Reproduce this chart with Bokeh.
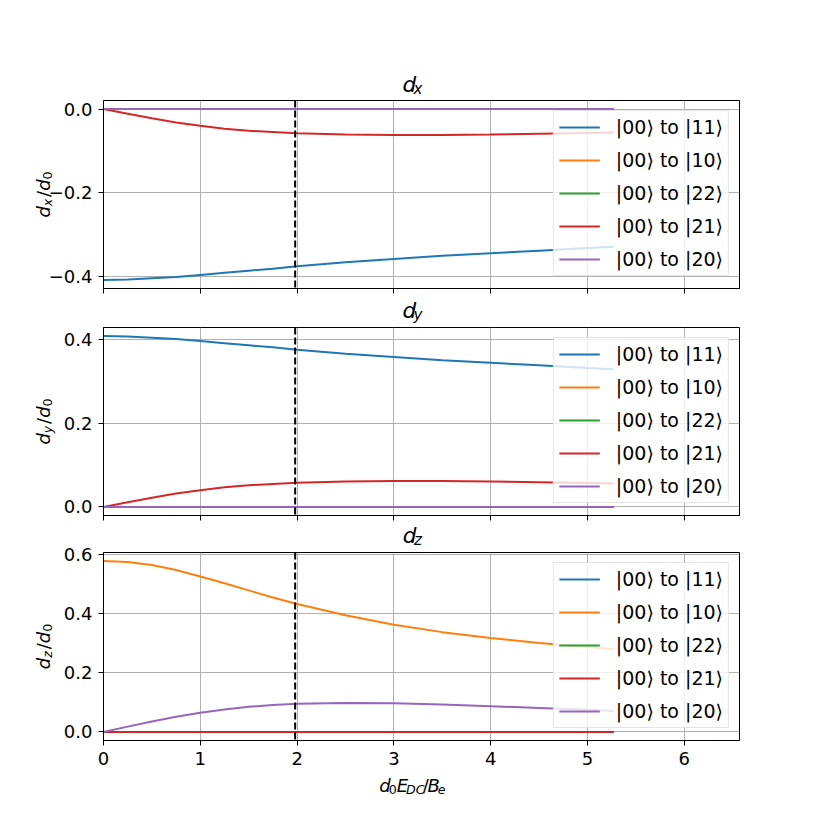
import math
from bokeh.plotting import figure
from bokeh.models import (Range1d, Span, Legend, LegendItem, FixedTicker,
                          CustomJSTickFormatter)
from bokeh.core.properties import value
from bokeh.layouts import column, row
from bokeh.embed import file_html
from bokeh.resources import INLINE

# ---------------- data ----------------
field = [0.0, 0.25, 0.5, 0.75, 1.0, 1.25, 1.5, 1.75, 2.0, 2.5, 3.0, 3.5, 4.0, 4.5, 5.0, 5.27]

zero = [0.0] * 16

dx_11 = [-0.408, -0.407, -0.404, -0.401, -0.396, -0.391, -0.386, -0.381, -0.375, -0.366, -0.358, -0.350, -0.344, -0.338, -0.332, -0.329]
dx_21 = [0.0, -0.011, -0.022, -0.032, -0.040, -0.047, -0.052, -0.055, -0.058, -0.061, -0.062, -0.062, -0.061, -0.059, -0.057, -0.056]

dy_11 = [0.408, 0.407, 0.404, 0.401, 0.396, 0.391, 0.386, 0.381, 0.375, 0.366, 0.358, 0.350, 0.344, 0.338, 0.332, 0.329]
dy_21 = [0.0, 0.011, 0.022, 0.032, 0.040, 0.047, 0.052, 0.055, 0.058, 0.061, 0.062, 0.062, 0.061, 0.059, 0.057, 0.056]

dz_10 = [0.577, 0.574, 0.564, 0.547, 0.525, 0.502, 0.478, 0.454, 0.432, 0.394, 0.362, 0.337, 0.317, 0.300, 0.287, 0.280]
dz_20 = [0.0, 0.018, 0.035, 0.051, 0.065, 0.076, 0.085, 0.091, 0.095, 0.098, 0.097, 0.093, 0.087, 0.081, 0.075, 0.071]

labels = ["|00⟩ to |11⟩", "|00⟩ to |10⟩", "|00⟩ to |22⟩", "|00⟩ to |21⟩", "|00⟩ to |20⟩"]
colors = ["#1f77b4", "#ff7f0e", "#2ca02c", "#d62728", "#9467bd"]

panels = [
    ("x", [dx_11, zero, zero, dx_21, zero], [-0.4, -0.2, 0.0]),
    ("y", [dy_11, zero, zero, dy_21, zero], [0.0, 0.2, 0.4]),
    ("z", [zero, dz_10, zero, zero, dz_20], [0.0, 0.2, 0.4, 0.6]),
]
x_ticks = [0, 1, 2, 3, 4, 5, 6]
x_max = 6.57
marker_x = 1.98

# ---------------- style / layout ----------------
FONT = "DejaVu Sans"
FS = 18.0
LFS = 19.0
TFS = 21.6
LEFT_W = 58
OVERLAP = 13
BORDER_L = 58
FRAME_W = 636
BORDER_R = 82
FRAME_H = 188
COL_W = BORDER_L + FRAME_W + BORDER_R
TOP_B = 12          # top border of each panel (room for the top tick label)
TITLE_OVERLAP = 10  # panel slides this far up over its title strip
title_heights = [98, 31, 29]
title_baselines = [90.7, 23.1, 21.1]
bottoms = [6, 6, 32]
XL_H = 43
XL_BASE = 19
YL_BASE = 49
BASE_FIX = 0.32   # renderer places alphabetic baseline this many em too low
SUB_GAP = 0.1     # extra space after a subscript, in em of the main size

W = {"d": 0.635, "x": 0.592, "y": 0.592, "z": 0.525, "/": 0.337, "0": 0.636,
     "E": 0.632, "D": 0.770, "C": 0.698, "B": 0.686, "e": 0.615}


def text_fig(w, h):
    p = figure(width=w, height=h, x_range=Range1d(0, w), y_range=Range1d(0, h),
               x_axis_type=None, y_axis_type=None, min_border=0,
               toolbar_location=None, output_backend="svg",
               background_fill_color=None, border_fill_color=None)
    p.outline_line_color = None
    p.grid.visible = False
    return p


def mathtext(p, h, cx, cy, parts, size, vertical=False):
    """cx, cy: for horizontal text, centre x and baseline y (from top);
    for vertical text, baseline x and centre y (from top)."""
    sub_size = 0.7 * size
    widths = []
    for idx, (txt, ital, sub) in enumerate(parts):
        s = sub_size if sub else size
        w = sum(W.get(c, 0.6) for c in txt) * s
        if sub and idx < len(parts) - 1:
            w += SUB_GAP * size
        widths.append(w)
    total = sum(widths)
    cum = -total / 2.0
    for (txt, ital, sub), w in zip(parts, widths):
        s = sub_size if sub else size
        shift = (0.12 * size if sub else 0.0) - BASE_FIX * s
        if vertical:
            px, py, ang = cx + shift, (h - cy) + cum, math.pi / 2
        else:
            px, py, ang = cx + cum, h - (cy + shift), 0.0
        p.text(x=[px], y=[py], text=[txt], angle=ang,
               text_font=value(FONT), text_font_size=value(f"{s:.1f}px"),
               text_font_style=value("italic" if ital else "normal"),
               text_align=value("left"), text_baseline=value("alphabetic"),
               text_color="black")
        cum += w


x_range = Range1d(0, x_max)
right_children = []
frame_centres = []
y_cursor = 0
for i, (comp, series, yt) in enumerate(panels):
    th = title_heights[i]
    t = text_fig(COL_W, th)
    mathtext(t, th, BORDER_L + FRAME_W / 2.0, title_baselines[i],
             [("d", True, False), (comp, True, True)], TFS)
    t.margin = (0, 0, -TITLE_OVERLAP, 0)
    right_children.append(t)
    y_cursor += th - TITLE_OVERLAP

    allv = [v for s in series for v in s]
    lo, hi = min(allv), max(allv)
    pad = 0.05 * (hi - lo)
    y_range = Range1d(lo - pad, hi + pad)
    p = figure(frame_width=FRAME_W, frame_height=FRAME_H, x_range=x_range, y_range=y_range,
               min_border_left=BORDER_L, min_border_right=BORDER_R, min_border_top=TOP_B,
               min_border_bottom=bottoms[i], toolbar_location=None, output_backend="svg",
               background_fill_color="white", border_fill_color=None)
    p.outline_line_color = "black"
    p.outline_line_width = 1
    p.outline_line_alpha = 1
    frame_centres.append(y_cursor + TOP_B + FRAME_H / 2.0)
    y_cursor += TOP_B + FRAME_H + bottoms[i]

    for ax in (p.xaxis[0], p.yaxis[0]):
        ax.major_tick_out = 5
        ax.major_tick_in = 0
        ax.minor_tick_out = 0
        ax.minor_tick_in = 0
        ax.axis_line_color = "black"
        ax.major_tick_line_color = "black"
        ax.major_label_text_font = FONT
        ax.major_label_text_font_size = f"{FS}px"
        ax.major_label_text_color = "black"
        ax.major_label_standoff = 6
    p.xaxis.ticker = FixedTicker(ticks=x_ticks)
    p.yaxis.ticker = FixedTicker(ticks=yt)
    p.yaxis.formatter = CustomJSTickFormatter(code="return tick.toFixed(1).replace('-', '\u2212');")
    if i == 2:
        p.xaxis.formatter = CustomJSTickFormatter(code="return tick.toFixed(0);")
    else:
        p.xaxis.major_label_text_font_size = "0px"
        p.xaxis.major_label_standoff = 0
        p.xaxis.formatter = CustomJSTickFormatter(code="return '';")

    p.xgrid.grid_line_color = "#b0b0b0"
    p.ygrid.grid_line_color = "#b0b0b0"
    p.xgrid.grid_line_width = 1
    p.ygrid.grid_line_width = 1

    items = []
    for s, c, lab in zip(series, colors, labels):
        r = p.line(field, s, line_color=c, line_width=2)
        items.append(LegendItem(label=lab, renderers=[r]))

    p.add_layout(Span(location=marker_x, dimension="height", line_color="black",
                      line_width=2, line_dash="7 3"))

    leg = Legend(items=items, location="top_right")
    leg.label_text_font = FONT
    leg.label_text_font_size = f"{LFS}px"
    leg.label_text_color = "black"
    leg.glyph_width = 41
    leg.glyph_height = 20
    leg.label_height = 20
    leg.label_standoff = 16
    leg.spacing = 11
    leg.padding = 5
    leg.margin = 10
    leg.border_line_color = "#cccccc"
    leg.border_line_width = 1
    leg.background_fill_alpha = 0.8
    p.add_layout(leg)
    right_children.append(p)

xl = text_fig(COL_W, XL_H)
mathtext(xl, XL_H, BORDER_L + FRAME_W / 2.0, XL_BASE,
         [("d", True, False), ("0", False, True), ("E", True, False),
          ("DC", True, True), ("/", False, False), ("B", True, False),
          ("e", True, True)], FS)
right_children.append(xl)
y_cursor += XL_H

lf = text_fig(LEFT_W, y_cursor)
for (comp, _, _), cy in zip(panels, frame_centres):
    mathtext(lf, y_cursor, YL_BASE, cy,
             [("d", True, False), (comp, True, True), ("/", False, False),
              ("d", True, False), ("0", False, True)], FS, vertical=True)
lf.margin = (0, -OVERLAP, 0, 0)

layout = row(lf, column(*right_children))
open("out.html", "w").write(file_html(layout, INLINE))
